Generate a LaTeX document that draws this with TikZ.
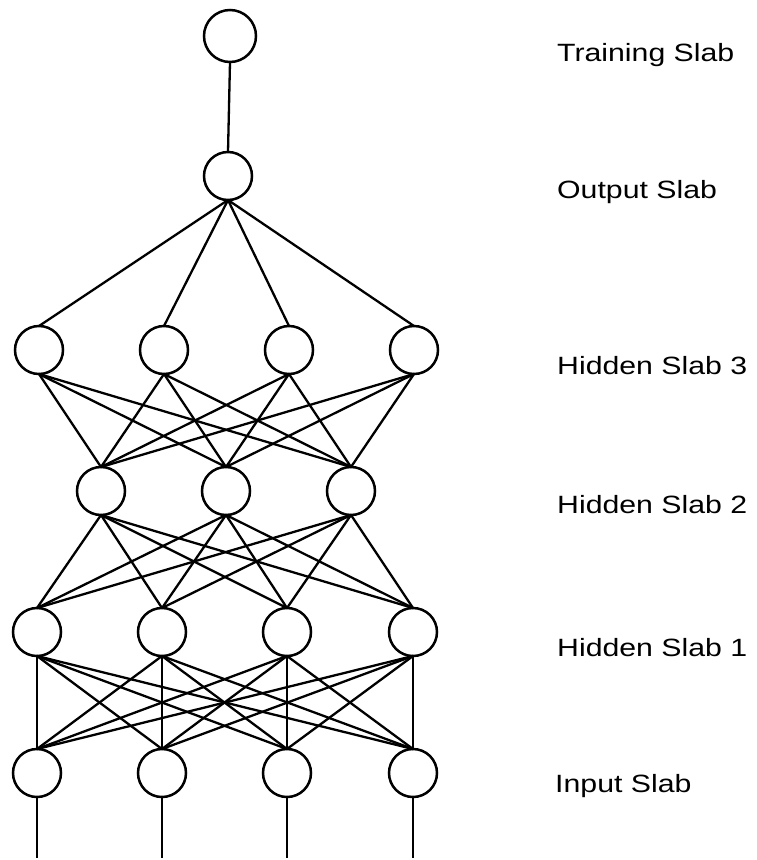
\documentclass[tikz,border=0pt]{standalone}
\usepackage{fontspec}
\usepackage{graphicx}
\setmainfont{Liberation Sans}
\begin{document}
\begin{tikzpicture}[x=1pt,y=-1pt,
  neuron/.style={circle,draw,line width=2.5pt,minimum size=48pt,inner sep=0pt,outer sep=0pt},
  bigneuron/.style={neuron,minimum size=52pt},
  link/.style={line width=2.3pt},
  slablabel/.style={anchor=west,inner sep=0pt,font=\fontsize{25}{30}\selectfont}]
\useasboundingbox (0,0) rectangle (756,860);
% nodes
\node[bigneuron] (T) at (230,36) {};
\node[neuron] (O) at (228,176) {};
\foreach \i/\x in {1/39,2/164,3/289,4/414} \node[neuron] (hc\i) at (\x,350) {};
\foreach \i/\x in {1/101,2/226,3/351} \node[neuron] (hb\i) at (\x,491) {};
\foreach \i/\x in {1/37,2/162,3/287,4/413} \node[neuron] (ha\i) at (\x,632) {};
\foreach \i/\x in {1/37,2/162,3/287,4/413} {
  \node[neuron] (in\i) at (\x,773) {};
  \coordinate (end\i) at (\x,858);
}
% labels
\node[slablabel] (lT) at (557,55) {\scalebox{1.21}[1]{Training Slab}};
\node[slablabel] (lO) at (557,192) {\scalebox{1.21}[1]{Output Slab}};
\node[slablabel] (l3) at (557,366) {\scalebox{1.21}[1]{Hidden Slab 3}};
\node[slablabel] (l2) at (557,505) {\scalebox{1.21}[1]{Hidden Slab 2}};
\node[slablabel] (l1) at (557,648) {\scalebox{1.21}[1]{Hidden Slab 1}};
\node[slablabel] (lI) at (555,786) {\scalebox{1.21}[1]{Input Slab}};
% connections
\draw[link] (T.south) -- (O.north);
\foreach \j in {1,...,4} \draw[link] (O.south) -- (hc\j.north);
\foreach \i in {1,...,4} \foreach \j in {1,...,3} \draw[link] (hc\i.south) -- (hb\j.north);
\foreach \i in {1,...,3} \foreach \j in {1,...,4} \draw[link] (hb\i.south) -- (ha\j.north);
\foreach \i in {1,...,4} \foreach \j in {1,...,4} \draw[link] (ha\i.south) -- (in\j.north);
\foreach \i in {1,...,4} \draw[link] (in\i.south) -- (end\i);
\end{tikzpicture}
\end{document}
